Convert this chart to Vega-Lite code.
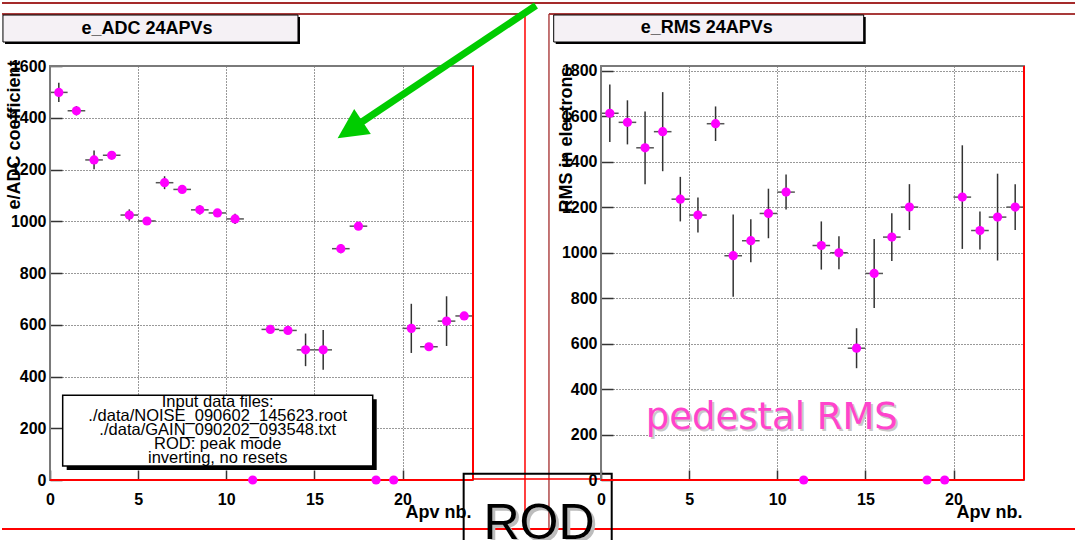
{
  "$schema": "https://vega.github.io/schema/vega-lite/v6.json",
  "autosize": {"type": "pad"},
  "padding": 0,
  "background": "white",
  "bounds": "flush",
  "spacing": 128,
  "datasets": {
    "apv": [
      {"bin": 0, "bin_end": 1, "center": 0.5, "adc": 1498, "adc_err": 37, "rms": 1614, "rms_err": 127},
      {"bin": 1, "bin_end": 2, "center": 1.5, "adc": 1427, "adc_err": 18, "rms": 1574, "rms_err": 97},
      {"bin": 2, "bin_end": 3, "center": 2.5, "adc": 1237, "adc_err": 36, "rms": 1462, "rms_err": 160},
      {"bin": 3, "bin_end": 4, "center": 3.5, "adc": 1255, "adc_err": 15, "rms": 1533, "rms_err": 174},
      {"bin": 4, "bin_end": 5, "center": 4.5, "adc": 1024, "adc_err": 22, "rms": 1236, "rms_err": 98},
      {"bin": 5, "bin_end": 6, "center": 5.5, "adc": 1001, "adc_err": 12, "rms": 1166, "rms_err": 77},
      {"bin": 6, "bin_end": 7, "center": 6.5, "adc": 1149, "adc_err": 25, "rms": 1568, "rms_err": 76},
      {"bin": 7, "bin_end": 8, "center": 7.5, "adc": 1123, "adc_err": 10, "rms": 987, "rms_err": 181},
      {"bin": 8, "bin_end": 9, "center": 8.5, "adc": 1044, "adc_err": 18, "rms": 1053, "rms_err": 95},
      {"bin": 9, "bin_end": 10, "center": 9.5, "adc": 1032, "adc_err": 8, "rms": 1173, "rms_err": 109},
      {"bin": 10, "bin_end": 11, "center": 10.5, "adc": 1009, "adc_err": 20, "rms": 1267, "rms_err": 77},
      {"bin": 11, "bin_end": 12, "center": 11.5, "adc": 0, "adc_err": 0, "rms": 0, "rms_err": 0},
      {"bin": 12, "bin_end": 13, "center": 12.5, "adc": 582, "adc_err": 8, "rms": 1032, "rms_err": 106},
      {"bin": 13, "bin_end": 14, "center": 13.5, "adc": 578, "adc_err": 6, "rms": 1000, "rms_err": 73},
      {"bin": 14, "bin_end": 15, "center": 14.5, "adc": 503, "adc_err": 63, "rms": 580, "rms_err": 88},
      {"bin": 15, "bin_end": 16, "center": 15.5, "adc": 503, "adc_err": 77, "rms": 909, "rms_err": 152},
      {"bin": 16, "bin_end": 17, "center": 16.5, "adc": 894, "adc_err": 18, "rms": 1069, "rms_err": 105},
      {"bin": 17, "bin_end": 18, "center": 17.5, "adc": 981, "adc_err": 5, "rms": 1201, "rms_err": 101},
      {"bin": 18, "bin_end": 19, "center": 18.5, "adc": 0, "adc_err": 0, "rms": 0, "rms_err": 0},
      {"bin": 19, "bin_end": 20, "center": 19.5, "adc": 0, "adc_err": 0, "rms": 0, "rms_err": 0},
      {"bin": 20, "bin_end": 21, "center": 20.5, "adc": 586, "adc_err": 95, "rms": 1245, "rms_err": 228},
      {"bin": 21, "bin_end": 22, "center": 21.5, "adc": 515, "adc_err": 6, "rms": 1098, "rms_err": 84},
      {"bin": 22, "bin_end": 23, "center": 22.5, "adc": 614, "adc_err": 96, "rms": 1157, "rms_err": 191},
      {"bin": 23, "bin_end": 24, "center": 23.5, "adc": 634, "adc_err": 8, "rms": 1201, "rms_err": 101}
    ]
  },
  "config": {
    "view": {"stroke": "#7f7f7f", "strokeWidth": 2},
    "axis": {
      "domain": false,
      "grid": true,
      "labelFont": "Liberation Sans", "labelFontWeight": "bold", "labelFontSize": 16, "labelColor": "black",
      "titleFont": "Liberation Sans", "titleFontWeight": "bold", "titleFontSize": 18, "titleColor": "black",
      "gridColor": "#333", "gridDash": [1, 2], "gridWidth": 1,
      "tickColor": "#333", "tickWidth": 1.5,
      "labelOverlap": false, "labelFlush": false
    },
    "text": {"font": "Liberation Sans"}
  },
  "hconcat": [
    {
      "width": 423,
      "height": 414,
      "view": {"stroke": "#7f7f7f", "strokeWidth": 2},
      "layer": [
        {"data": {"values": [{}]}, "mark": {"type": "rule", "color": "#a52a2a", "strokeWidth": 2},
         "encoding": {"x": {"datum": -2.723}, "x2": {"datum": 58.21}, "y": {"datum": 1843.5}}},
        {"data": {"values": [{}]}, "mark": {"type": "rule", "color": "#a83a3a", "strokeWidth": 2},
         "encoding": {"x": {"datum": -2.723}, "x2": {"datum": 26.95}, "y": {"datum": 1801}}},
        {"data": {"values": [{}]}, "mark": {"type": "rule", "color": "#ff0000", "strokeWidth": 1.5},
         "encoding": {"x": {"datum": 26.95}, "y": {"datum": 1801}, "y2": {"datum": -189.4}}},
        {"data": {"values": [{}]}, "mark": {"type": "rule", "color": "#b04848", "strokeWidth": 1.5},
         "encoding": {"x": {"datum": 28.31}, "y": {"datum": 1801}, "y2": {"datum": -189.4}}},
        {"data": {"values": [{}]}, "mark": {"type": "rule", "color": "#a83a3a", "strokeWidth": 2},
         "encoding": {"x": {"datum": 28.31}, "x2": {"datum": 58.21}, "y": {"datum": 1801}}},
        {"data": {"values": [{}]}, "mark": {"type": "rule", "color": "#ff0000", "strokeWidth": 2},
         "encoding": {"x": {"datum": -2.723}, "x2": {"datum": 58.21}, "y": {"datum": -189.4}}},
        {"data": {"values": [{}]}, "mark": {"type": "rule", "color": "#ff0000", "strokeWidth": 1.5},
         "encoding": {"x": {"datum": 24}, "x2": {"datum": 31.26}, "y": {"datum": 3.86}}},
        {"data": {"values": [{}]}, "mark": {"type": "rect", "color": "black"},
         "encoding": {"x": {"datum": -2.553}, "x2": {"datum": 14.184}, "y": {"datum": 1789.4}, "y2": {"datum": 1685}}},
        {"data": {"values": [{}]}, "mark": {"type": "rect", "fill": "#f5f1f5", "stroke": "black", "strokeWidth": 1},
         "encoding": {"x": {"datum": -2.67}, "x2": {"datum": 14.07}, "y": {"datum": 1797}, "y2": {"datum": 1692.7}}},
        {"data": {"values": [{}]}, "mark": {"type": "text", "text": "e_ADC 24APVs", "fontSize": 18, "fontWeight": "bold", "color": "black", "align": "center", "baseline": "middle"},
         "encoding": {"x": {"datum": 5.504}, "y": {"datum": 1744.9}}},
        {"data": {"name": "apv"}, "mark": {"type": "rule", "color": "#555", "strokeWidth": 1.5},
         "encoding": {
           "x": {"field": "bin", "type": "quantitative", "title": "Apv nb.", "scale": {"domain": [0, 24], "nice": false, "zero": false},
                 "axis": {"values": [0, 5, 10, 15, 20], "grid": true, "tickSize": -10, "labelPadding": 21, "title": "Apv nb.", "titleAnchor": "end", "titleAlign": "right", "titleBaseline": "middle", "titleX": 421, "titleY": 32}},
           "x2": {"field": "bin_end"},
           "y": {"field": "adc", "type": "quantitative", "title": "e/ADC coefficient", "scale": {"domain": [0, 1600], "nice": false, "zero": false},
                 "axis": {"values": [0,50,100,150,200,250,300,350,400,450,500,550,600,650,700,750,800,850,900,950,1000,1050,1100,1150,1200,1250,1300,1350,1400,1450,1500,1550,1600],
                          "format": "d",
                          "grid": true,
                          "labelExpr": "datum.value % 200 === 0 ? datum.label : ''",
                          "tickSize": {"condition": {"test": "datum.value % 200 === 0", "value": -12}, "value": -6},
                          "labelPadding": 16,
                          "gridOpacity": {"condition": {"test": "datum.value % 200 === 0", "value": 1}, "value": 0},
                          "title": "e/ADC coefficient", "titleAngle": 270, "titleAlign": "right", "titleBaseline": "middle", "titleX": -36, "titleY": -6}}
         }},
        {"data": {"values": [{}]}, "mark": {"type": "rect", "color": "black"},
         "encoding": {"x": {"datum": 0.947}, "x2": {"datum": 18.536}, "y": {"datum": 311.9}, "y2": {"datum": 38.6}}},
        {"data": {"values": [{}]}, "mark": {"type": "rect", "fill": "white", "stroke": "black", "strokeWidth": 1.5},
         "encoding": {"x": {"datum": 0.72}, "x2": {"datum": 18.31}, "y": {"datum": 327.3}, "y2": {"datum": 54.1}}},
        {"data": {"values": [{}]}, "mark": {"type": "text", "text": ["Input data files:", "./data/NOISE_090602_145623.root", "./data/GAIN_090202_093548.txt", "ROD: peak mode", "inverting, no resets"], "fontSize": 16.5, "lineHeight": 14, "color": "black", "align": "center", "baseline": "middle"},
         "encoding": {"x": {"datum": 9.515}, "y": {"datum": 301.4}}},
        {"data": {"name": "apv"}, "mark": {"type": "errorbar", "color": "#333", "thickness": 1.5},
         "encoding": {"x": {"field": "center", "type": "quantitative", "title": "Apv nb."}, "y": {"field": "adc", "type": "quantitative", "title": "e/ADC coefficient"}, "yError": {"field": "adc_err"}}},
        {"data": {"values": [{}]}, "mark": {"type": "rule", "color": "#7a7a7a", "strokeWidth": 2},
         "encoding": {"x": {"datum": 0.001}, "x2": {"datum": 24}, "y": {"datum": 1600}}},
        {"data": {"values": [{}]}, "mark": {"type": "rule", "color": "#7a7a7a", "strokeWidth": 2},
         "encoding": {"x": {"datum": 0.001}, "y": {"datum": 0.001}, "y2": {"datum": 1600}}},
        {"data": {"values": [{}]}, "mark": {"type": "rule", "color": "#ff0000", "strokeWidth": 2},
         "encoding": {"x": {"datum": 0.001}, "x2": {"datum": 24}, "y": {"datum": 0.001}}},
        {"data": {"values": [{}]}, "mark": {"type": "rule", "color": "#ff0000", "strokeWidth": 2},
         "encoding": {"x": {"datum": 24}, "y": {"datum": 0.001}, "y2": {"datum": 1600}}},
        {"data": {"name": "apv"}, "mark": {"type": "point", "filled": true, "color": "#ff00ff", "size": 85, "opacity": 1},
         "encoding": {"x": {"field": "center", "type": "quantitative", "title": "Apv nb."}, "y": {"field": "adc", "type": "quantitative", "title": "e/ADC coefficient"}}},
        {"data": {"values": [{}]}, "mark": {"type": "rule", "color": "#00cc00", "strokeWidth": 7},
         "encoding": {"x": {"datum": 27.574}, "y": {"datum": 1833.8}, "x2": {"datum": 17.475}, "y2": {"datum": 1373.9}}},
        {"data": {"values": [{}]}, "mark": {"type": "point", "shape": "M-0.82,0.71L0.01,-0.75L0.84,0.5Z", "filled": true, "color": "#00cc00", "size": 1600, "opacity": 1},
         "encoding": {"x": {"datum": 17.248}, "y": {"datum": 1375.8}}},
        {"data": {"values": [{}]}, "mark": {"type": "rect", "filled": false, "color": "black", "strokeWidth": 2},
         "encoding": {"x": {"datum": 23.47}, "x2": {"datum": 31.87}, "y": {"datum": 24.3}, "y2": {"datum": -270.5}}},
        {"data": {"values": [{}]}, "mark": {"type": "text", "text": "ROD", "font": "Liberation Sans", "fontSize": 50, "color": "#bdbdbd", "align": "center", "baseline": "alphabetic", "dx": 3, "dy": 3},
         "encoding": {"x": {"datum": 27.745}, "y": {"datum": -228}}},
        {"data": {"values": [{}]}, "mark": {"type": "text", "text": "ROD", "font": "Liberation Sans", "fontSize": 50, "color": "black", "align": "center", "baseline": "alphabetic"},
         "encoding": {"x": {"datum": 27.745}, "y": {"datum": -228}}}
      ]
    },
    {
      "width": 423,
      "height": 414,
      "view": {"stroke": "#7f7f7f", "strokeWidth": 2},
      "layer": [
        {"data": {"values": [{}]}, "mark": {"type": "rect", "color": "black"},
         "encoding": {"x": {"datum": -2.57}, "x2": {"datum": 15.02}, "y": {"datum": 2037.7}, "y2": {"datum": 1918.8}}},
        {"data": {"values": [{}]}, "mark": {"type": "rect", "fill": "#f5f1f5", "stroke": "black", "strokeWidth": 1},
         "encoding": {"x": {"datum": -2.684}, "x2": {"datum": 14.905}, "y": {"datum": 2046.5}, "y2": {"datum": 1927.6}}},
        {"data": {"values": [{}]}, "mark": {"type": "text", "text": "e_RMS 24APVs", "fontSize": 18, "fontWeight": "bold", "color": "black", "align": "center", "baseline": "middle"},
         "encoding": {"x": {"datum": 6.0}, "y": {"datum": 1989}}},
        {"data": {"name": "apv"}, "mark": {"type": "rule", "color": "#555", "strokeWidth": 1.5},
         "encoding": {
           "x": {"field": "bin", "type": "quantitative", "title": "Apv nb.", "scale": {"domain": [0, 24], "nice": false, "zero": false},
                 "axis": {"values": [0, 5, 10, 15, 20], "grid": true, "tickSize": -10, "labelPadding": 21, "title": "Apv nb.", "titleAnchor": "end", "titleAlign": "right", "titleBaseline": "middle", "titleX": 421, "titleY": 32}},
           "x2": {"field": "bin_end"},
           "y": {"field": "rms", "type": "quantitative", "title": "RMS in electrons", "scale": {"domain": [0, 1822], "nice": false, "zero": false},
                 "axis": {"values": [0,50,100,150,200,250,300,350,400,450,500,550,600,650,700,750,800,850,900,950,1000,1050,1100,1150,1200,1250,1300,1350,1400,1450,1500,1550,1600,1650,1700,1750,1800],
                          "format": "d",
                          "grid": true,
                          "labelExpr": "datum.value % 200 === 0 ? datum.label : ''",
                          "tickSize": {"condition": {"test": "datum.value % 200 === 0", "value": -12}, "value": -6},
                          "labelPadding": 16,
                          "gridOpacity": {"condition": {"test": "datum.value % 200 === 0", "value": 1}, "value": 0},
                          "title": "RMS in electrons", "titleAngle": 270, "titleAlign": "right", "titleBaseline": "middle", "titleX": -35, "titleY": 0}}
         }},
        {"data": {"values": [{}]}, "mark": {"type": "text", "text": "pedestal RMS", "font": "DejaVu Sans", "fontSize": 37, "color": "#c8c8c8", "align": "center", "baseline": "alphabetic", "dx": 2, "dy": 2},
         "encoding": {"x": {"datum": 9.69}, "y": {"datum": 225.8}}},
        {"data": {"values": [{}]}, "mark": {"type": "text", "text": "pedestal RMS", "font": "DejaVu Sans", "fontSize": 37, "color": "#ff44cc", "align": "center", "baseline": "alphabetic"},
         "encoding": {"x": {"datum": 9.69}, "y": {"datum": 225.8}}},
        {"data": {"name": "apv"}, "mark": {"type": "errorbar", "color": "#333", "thickness": 1.5},
         "encoding": {"x": {"field": "center", "type": "quantitative", "title": "Apv nb."}, "y": {"field": "rms", "type": "quantitative", "title": "RMS in electrons"}, "yError": {"field": "rms_err"}}},
        {"data": {"values": [{}]}, "mark": {"type": "rule", "color": "#7a7a7a", "strokeWidth": 2},
         "encoding": {"x": {"datum": 0.001}, "x2": {"datum": 24}, "y": {"datum": 1822}}},
        {"data": {"values": [{}]}, "mark": {"type": "rule", "color": "#7a7a7a", "strokeWidth": 2},
         "encoding": {"x": {"datum": 0.001}, "y": {"datum": 0.001}, "y2": {"datum": 1822}}},
        {"data": {"values": [{}]}, "mark": {"type": "rule", "color": "#ff0000", "strokeWidth": 2},
         "encoding": {"x": {"datum": 0.001}, "x2": {"datum": 24}, "y": {"datum": 0.001}}},
        {"data": {"values": [{}]}, "mark": {"type": "rule", "color": "#ff0000", "strokeWidth": 2},
         "encoding": {"x": {"datum": 24}, "y": {"datum": 0.001}, "y2": {"datum": 1822}}},
        {"data": {"name": "apv"}, "mark": {"type": "point", "filled": true, "color": "#ff00ff", "size": 85, "opacity": 1},
         "encoding": {"x": {"field": "center", "type": "quantitative", "title": "Apv nb."}, "y": {"field": "rms", "type": "quantitative", "title": "RMS in electrons"}}}
      ]
    }
  ]
}
